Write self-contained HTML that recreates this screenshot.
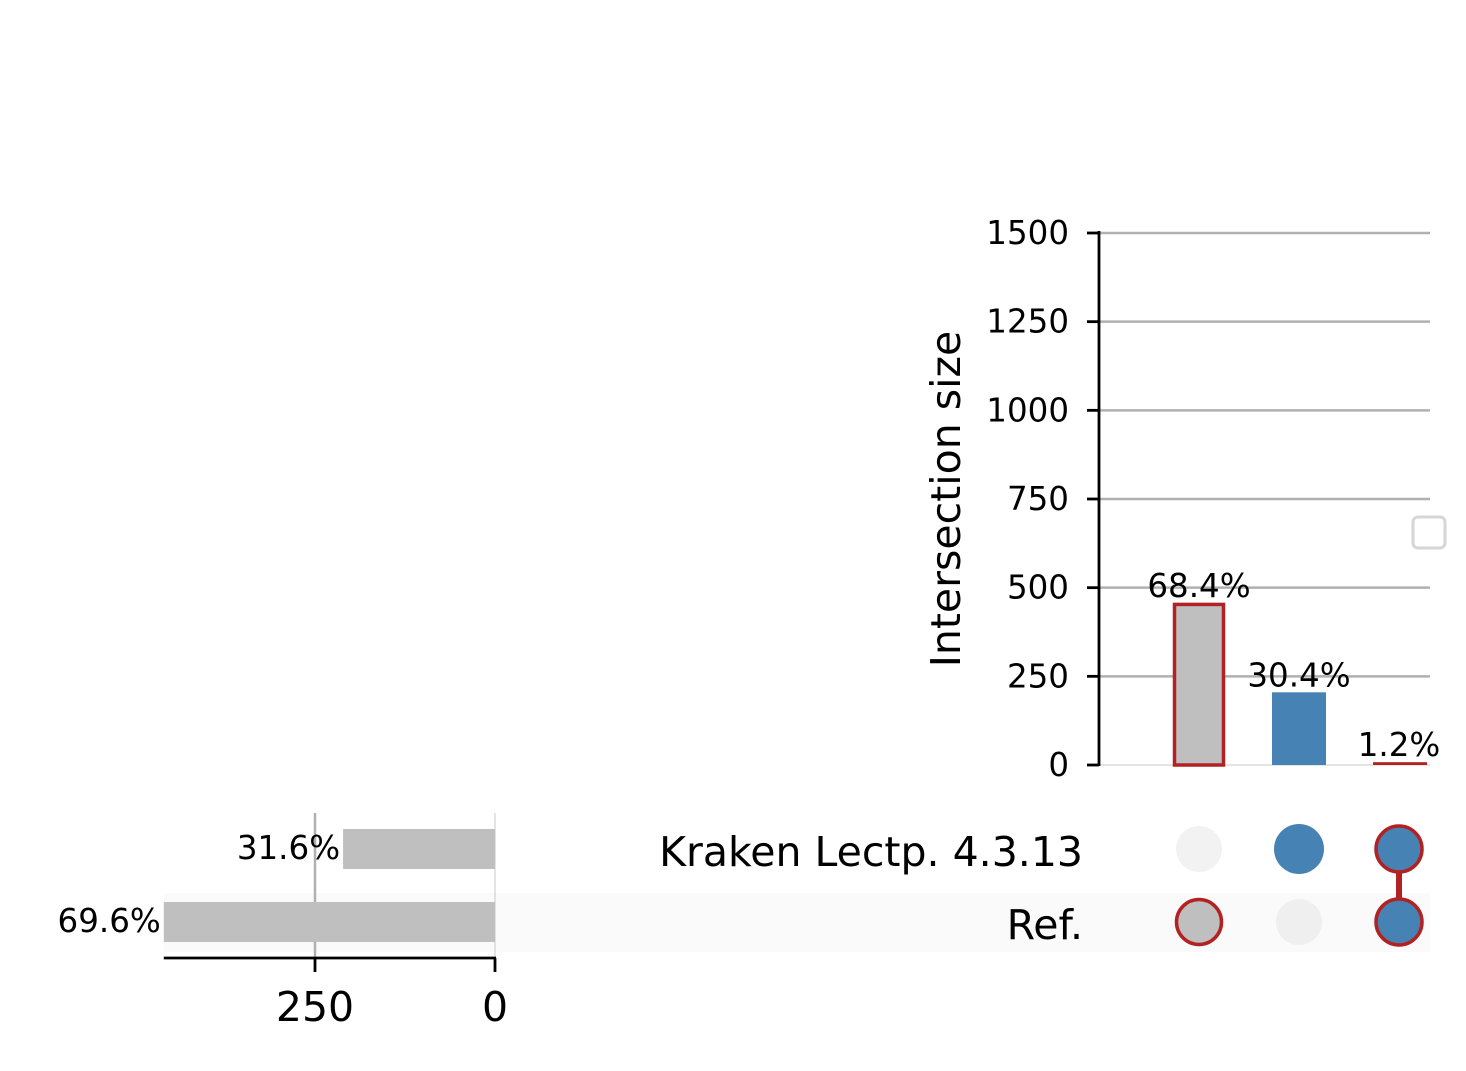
<!DOCTYPE html>
<html><head><meta charset="utf-8"><style>
html,body{margin:0;padding:0;background:#fff;}
svg text{font-family:"DejaVu Sans","Liberation Sans",sans-serif;}
</style></head><body>
<svg id="c" width="1466" height="1066" viewBox="0 0 1466 1066" xmlns="http://www.w3.org/2000/svg">
<rect x="0" y="0" width="1466" height="1066" fill="#fff"/>
<rect x="164" y="893" width="1266" height="59" fill="#fafafa"/>
<g id="g"></g>
<text x="960" y="499" font-size="41" text-anchor="middle" transform="rotate(-90 960 499)" fill="#000">Intersection size</text>
<rect x="1413" y="517" width="32" height="31" rx="5" fill="#fff" stroke="#d6d6d6" stroke-width="3"/>
</svg>
<script>
const intersectionLabels = ["Ref. only", "Kraken only", "Both"];
const intersectionValues = [457, 205, 8];
const intersectionPct = ["68.4%", "30.4%", "1.2%"];
const yTicks = [0, 250, 500, 750, 1000, 1250, 1500];
const setNames = ["Kraken Lectp. 4.3.13", "Ref."];
const setSizes = [211, 460];
const setPct = ["31.6%", "69.6%"];
const xTicks = [250, 0];
const membership = [[false, true, true], [true, false, true]];

const NS = "http://www.w3.org/2000/svg";
const g = document.getElementById('g');
function mk(tag, attrs, txt){const e=document.createElementNS(NS,tag);for(const k in attrs)e.setAttribute(k,attrs[k]);if(txt!==undefined)e.textContent=txt;g.appendChild(e);return e;}
const y = v => 765 - v * (532/1500);
const colX = i => 1199 + i*100;
const hx = v => 495 - v * 0.72;
const rowY = i => 849 + i*73;

yTicks.forEach(t=>{
  const l=mk('line',{x1:1099,x2:1430,y1:y(t),y2:y(t),stroke:t===0?'#c8c8c8':'#b0b0b0','stroke-width':t===0?1:2.5});
   
  const tk=mk('line',{x1:1087,x2:1099,y1:y(t),y2:y(t),stroke:'#000','stroke-width':2.8});
   
  const tx=mk('text',{x:1069,y:y(t)+11,'font-size':32.5,'text-anchor':'end',fill:'#000'},String(t));
   
});
const ax=mk('line',{x1:1099,x2:1099,y1:y(1500)-2,y2:766,stroke:'#000','stroke-width':2.8});
 

intersectionValues.forEach((v,i)=>{
  const cx=colX(i); const w=52;
  let attrs;
  if(i===0) attrs={x:cx-w/2+1.5,y:y(v)+1.5,width:w-3,height:765-y(v)-1.5,fill:'#bfbfbf',stroke:'#b22222','stroke-width':3.5};
  else if(i===1) attrs={x:cx-27,y:y(v),width:54,height:765-y(v),fill:'#4682b4'};
  else attrs={x:cx-26,y:y(v),width:54,height:765-y(v),fill:'#b22222'};
  const b=mk('rect',attrs);
   
  const t=mk('text',{x:cx,y:y(v)-6,'font-size':32.5,'text-anchor':'middle',fill:'#000'},intersectionPct[i]);
   
});

[250,0].forEach(t=>{
  const l=mk('line',{x1:hx(t),x2:hx(t),y1:813,y2:958,stroke:t===0?'#c8c8c8':'#b0b0b0','stroke-width':t===0?1:2.5});
   
});
setSizes.forEach((v,i)=>{
  const b=mk('rect',{x:hx(v),y:rowY(i)-20,width:495-hx(v),height:40,fill:'#bfbfbf'});
   
  const t=mk('text',{x:hx(v)-3,y:rowY(i)+10,'font-size':32.5,'text-anchor':'end',fill:'#000'},setPct[i]);
   
  const n=mk('text',{x:1083,y:rowY(i)+17,'font-size':41,'text-anchor':'end',fill:'#000'},setNames[i]);
   
});
const hax=mk('line',{x1:hx(460),x2:496,y1:958,y2:958,stroke:'#000','stroke-width':2.8});
 
xTicks.forEach(t=>{
  const tk=mk('line',{x1:hx(t),x2:hx(t),y1:958,y2:972,stroke:'#000','stroke-width':2.8});
   
  const tx=mk('text',{x:hx(t),y:1021,'font-size':41,'text-anchor':'middle',fill:'#000'},String(t));
   
});

const ln=mk('line',{x1:colX(2),x2:colX(2),y1:rowY(0),y2:rowY(1),stroke:'#b22222','stroke-width':6});
 
membership.forEach((row,r)=>row.forEach((m,c)=>{
  let attrs;
  if(!m) attrs={cx:colX(c),cy:rowY(r),r:23,fill:r===0?'#f2f2f2':'#efefef'};
  else if(c===0) attrs={cx:colX(c),cy:rowY(r),r:22.5,fill:'#bfbfbf',stroke:'#b22222','stroke-width':3.5};
  else if(c===1) attrs={cx:colX(c),cy:rowY(r),r:25,fill:'#4682b4'};
  else attrs={cx:colX(c),cy:rowY(r),r:23,fill:'#4682b4',stroke:'#b22222','stroke-width':3.5};
  const d=mk('circle',attrs);
   
}));
</script>
</body></html>
